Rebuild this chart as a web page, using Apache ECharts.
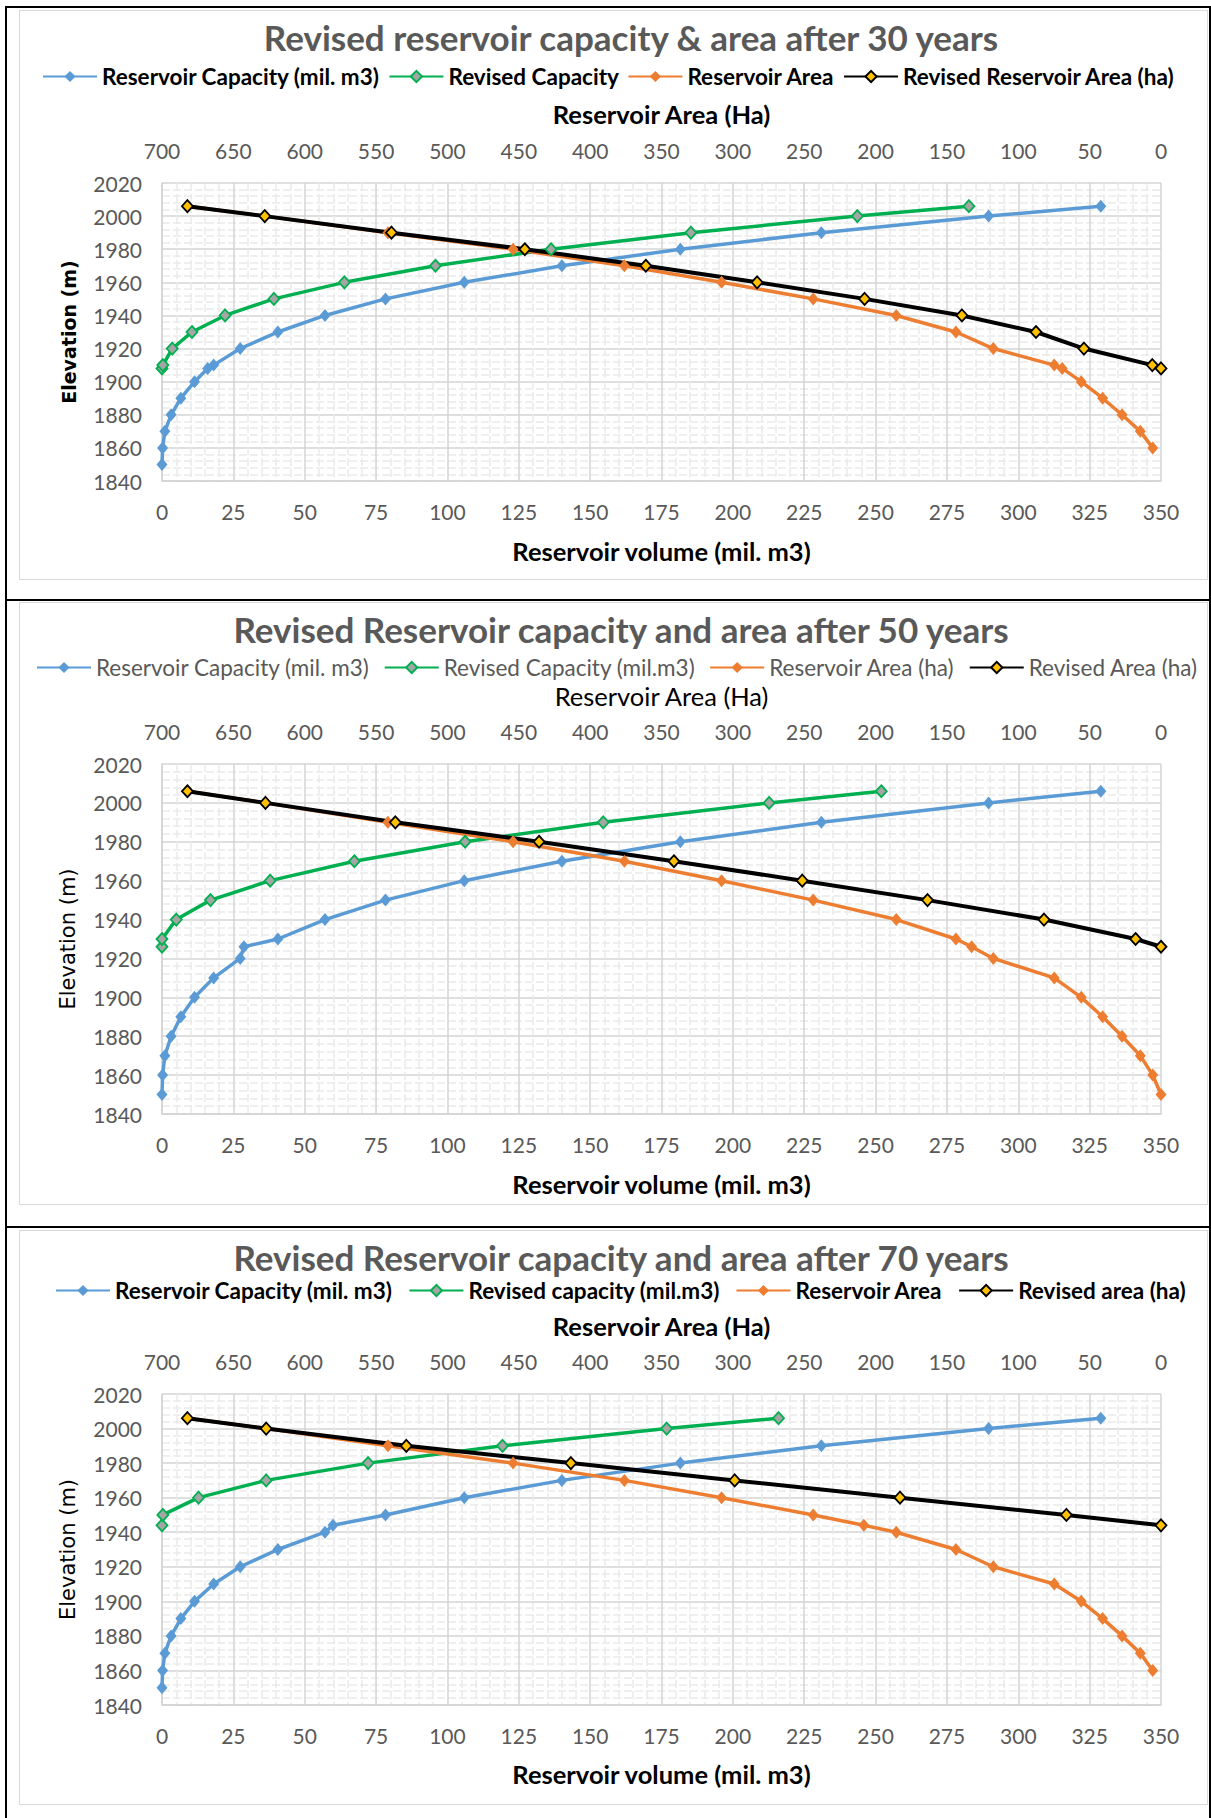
<!DOCTYPE html>
<html>
<head>
<meta charset="utf-8">
<title>Revised reservoir capacity and area</title>
<script src="https://cdn.jsdelivr.net/npm/echarts@6/dist/echarts.min.js"></script>
<style>
  html, body { margin: 0; padding: 0; background: #ffffff; }
  body { width: 1211px; height: 1818px; position: relative; overflow: hidden; }
  .rule { position: absolute; background: #000000; }
  .frame { position: absolute; left: 19px; width: 1189px; box-sizing: border-box; border: 1px solid #d9d9d9; }
  .chart { position: absolute; left: 19px; width: 1189px; }
</style>
</head>
<body>
<!-- table rules around the three panels -->
<div class="rule" style="left:5px;top:6px;width:2px;height:1812px"></div>
<div class="rule" style="left:5px;top:6px;width:1206px;height:2px"></div>
<div class="rule" style="left:5px;top:599px;width:1206px;height:2px"></div>
<div class="rule" style="left:5px;top:1226px;width:1206px;height:2px"></div>
<div class="rule" style="left:1209px;top:6px;width:2px;height:1812px"></div>

<div class="frame" style="top:10px;height:570px"></div>
<div class="frame" style="top:602px;height:603px"></div>
<div class="frame" style="top:1230px;height:575px"></div>

<div id="chart30" class="chart" style="top:10px;height:570px"></div>
<div id="chart50" class="chart" style="top:602px;height:603px"></div>
<div id="chart70" class="chart" style="top:1230px;height:575px"></div>

<script>
// ---------- axis ticks ----------
const VOLUME_TICKS = [0, 350, 25];      // min, max, step (mil. m3)
const AREA_TICKS = [0, 700, 50];        // min, max, step (ha), drawn right-to-left
const ELEVATION_TICKS = [1840, 2020, 20];

// ---------- after 30 years ----------
const capElev30 = [1850, 1860, 1870, 1880, 1890, 1900, 1908, 1910, 1920, 1930, 1940, 1950, 1960, 1970, 1980, 1990, 2000, 2006];
const cap30 = [0, 0.2, 1.0, 3.2, 6.6, 11.4, 16.0, 18.1, 27.4, 40.6, 57.1, 78.3, 105.9, 140.1, 181.6, 231.0, 289.6, 328.9];
const revCapElev30 = [1908, 1910, 1920, 1930, 1940, 1950, 1960, 1970, 1980, 1990, 2000, 2006];
const revCap30 = [0, 0.3, 3.6, 10.5, 22.1, 39.2, 63.9, 95.8, 136.3, 185.3, 243.6, 282.7];
const areaElev30 = [1860, 1870, 1880, 1890, 1900, 1908, 1910, 1920, 1930, 1940, 1950, 1960, 1970, 1980, 1990, 2000, 2006];
const area30 = [5.8, 14.5, 27.3, 40.9, 55.9, 69.2, 74.8, 117.5, 143.7, 185.5, 243.7, 307.9, 376.0, 454.0, 541.7, 627.8, 682.2];
const revAreaElev30 = [1908, 1910, 1920, 1930, 1940, 1950, 1960, 1970, 1980, 1990, 2000, 2006];
const revArea30 = [0, 6.1, 54.0, 87.6, 139.5, 207.7, 283.0, 361.0, 445.8, 539.2, 628.0, 682.2];

// ---------- after 50 years ----------
const capElev50 = [1850, 1860, 1870, 1880, 1890, 1900, 1910, 1920, 1926, 1930, 1940, 1950, 1960, 1970, 1980, 1990, 2000, 2006];
const cap50 = [0, 0.2, 1.0, 3.2, 6.6, 11.4, 18.1, 27.4, 28.7, 40.6, 57.1, 78.3, 105.9, 140.1, 181.6, 231.0, 289.6, 328.9];
const revCapElev50 = [1926, 1930, 1940, 1950, 1960, 1970, 1980, 1990, 2000, 2006];
const revCap50 = [0, 0, 5.0, 17.0, 37.9, 67.4, 106.2, 154.6, 212.7, 252.0];
const areaElev50 = [1850, 1860, 1870, 1880, 1890, 1900, 1910, 1920, 1926, 1930, 1940, 1950, 1960, 1970, 1980, 1990, 2000, 2006];
const area50 = [0, 5.8, 14.5, 27.3, 40.9, 55.9, 74.8, 117.5, 132.7, 143.7, 185.5, 243.7, 307.9, 376.0, 454.0, 541.7, 627.8, 682.2];
const revAreaElev50 = [1926, 1930, 1940, 1950, 1960, 1970, 1980, 1990, 2000, 2006];
const revArea50 = [0, 17.8, 82.0, 163.6, 251.4, 341.3, 435.8, 536.5, 627.5, 682.2];

// ---------- after 70 years ----------
const capElev70 = [1850, 1860, 1870, 1880, 1890, 1900, 1910, 1920, 1930, 1940, 1944, 1950, 1960, 1970, 1980, 1990, 2000, 2006];
const cap70 = [0, 0.2, 1.0, 3.2, 6.6, 11.4, 18.1, 27.4, 40.6, 57.1, 59.9, 78.3, 105.9, 140.1, 181.6, 231.0, 289.6, 328.9];
const revCapElev70 = [1944, 1950, 1960, 1970, 1980, 1990, 2000, 2006];
const revCap70 = [0, 0.3, 12.8, 36.5, 72.2, 119.3, 176.8, 216.0];
const areaElev70 = [1860, 1870, 1880, 1890, 1900, 1910, 1920, 1930, 1940, 1944, 1950, 1960, 1970, 1980, 1990, 2000, 2006];
const area70 = [5.8, 14.5, 27.3, 40.9, 55.9, 74.8, 117.5, 143.7, 185.5, 208.2, 243.7, 307.9, 376.0, 454.0, 541.7, 627.0, 682.2];
const revAreaElev70 = [1944, 1950, 1960, 1970, 1980, 1990, 2000, 2006];
const revArea70 = [0, 66.3, 182.9, 298.7, 413.5, 528.8, 627.0, 682.2];

// ---------- series names ----------
const names30 = ['Reservoir Capacity (mil. m3)', 'Revised Capacity', 'Reservoir Area', 'Revised Reservoir Area (ha)'];
const names50 = ['Reservoir Capacity (mil. m3)', 'Revised Capacity (mil.m3)', 'Reservoir Area (ha)', 'Revised Area (ha)'];
const names70 = ['Reservoir Capacity (mil. m3)', 'Revised capacity (mil.m3)', 'Reservoir Area', 'Revised area (ha)'];

const BODY_FONT = 'Lato, "Liberation Sans", sans-serif';
const GRAY_TEXT = '#595959';

function points(values, elevations) {
  return values.map((v, i) => [v, elevations[i]]);
}

// One line series; xIndex 0 = volume axis (bottom), 1 = area axis (top)
function curve(name, xIndex, data, kind) {
  const s = {
    name, type: 'line', xAxisIndex: xIndex, yAxisIndex: 0, data,
    symbol: 'diamond', symbolSize: [11, 13], showSymbol: true, smooth: false,
    emphasis: { disabled: true }
  };
  if (kind === 'capacity') {
    s.lineStyle = { color: '#5b9bd5', width: 3.5 };
    s.itemStyle = { color: '#5b9bd5', borderColor: '#5b9bd5', borderWidth: 0 };
  } else if (kind === 'revisedCapacity') {
    s.symbolSize = [11, 12];
    s.lineStyle = { color: '#00b050', width: 3.5 };
    s.itemStyle = { color: '#a5a5a5', borderColor: '#00b050', borderWidth: 1.8 };
  } else if (kind === 'area') {
    s.lineStyle = { color: '#ed7d31', width: 3.5 };
    s.itemStyle = { color: '#ed7d31', borderColor: '#ed7d31', borderWidth: 0 };
  } else {
    s.symbolSize = [11, 12];
    s.lineStyle = { color: '#000000', width: 4 };
    s.itemStyle = { color: '#ffc000', borderColor: '#000000', borderWidth: 1.8 };
  }
  return s;
}

function buildOption(p) {
  const labelBase = { color: GRAY_TEXT, fontFamily: BODY_FONT, fontSize: 21 };
  const majorLine = { show: true, lineStyle: { color: '#d4d4d4', width: 1.5 } };
  const minorLine = { show: true, lineStyle: { color: '#eaeaea', width: 1.5, type: [8, 3] } };
  const axisNameStyle = (bold) => ({ fontFamily: BODY_FONT, fontSize: 25.5, fontWeight: bold ? 'bold' : 'normal', color: '#000000' });
  return {
    animation: false,
    textStyle: { fontFamily: BODY_FONT },
    title: {
      text: p.title, left: p.titleX, top: 27, padding: 0,
      textAlign: 'center', textVerticalAlign: 'middle',
      textStyle: { fontFamily: BODY_FONT, fontSize: 35, fontWeight: 'bold', color: GRAY_TEXT }
    },
    legend: {
      data: p.names, left: p.legendX, top: p.legendY, padding: 0,
      itemWidth: 54, itemHeight: 14, itemGap: p.legendGap,
      selectedMode: false,
      textStyle: { fontFamily: BODY_FONT, fontSize: 22.5, fontWeight: p.legendBold ? 'bold' : 'normal', color: p.legendColor }
    },
    grid: { left: 143, top: p.gridTop, width: 999, height: p.gridHeight },
    xAxis: [
      {
        type: 'value', position: 'bottom',
        min: VOLUME_TICKS[0], max: VOLUME_TICKS[1], interval: VOLUME_TICKS[2],
        name: 'Reservoir volume (mil. m3)', nameLocation: 'middle', nameGap: p.bottomNameGap,
        nameTextStyle: axisNameStyle(true),
        axisLine: { show: true, lineStyle: { color: '#d4d4d4', width: 1.5 } },
        axisTick: { show: false },
        axisLabel: Object.assign({ margin: 20 }, labelBase),
        splitLine: majorLine,
        minorTick: { show: false, splitNumber: 5 },
        minorSplitLine: minorLine
      },
      {
        type: 'value', position: 'top', inverse: true,
        min: AREA_TICKS[0], max: AREA_TICKS[1], interval: AREA_TICKS[2],
        name: 'Reservoir Area (Ha)', nameLocation: 'middle', nameGap: p.topNameGap,
        nameTextStyle: axisNameStyle(p.topNameBold),
        axisLine: { show: false },
        axisTick: { show: false },
        axisLabel: Object.assign({ margin: 22.5 }, labelBase),
        splitLine: { show: false }
      }
    ],
    yAxis: {
      type: 'value',
      min: ELEVATION_TICKS[0], max: ELEVATION_TICKS[1], interval: ELEVATION_TICKS[2],
      name: 'Elevation (m)', nameLocation: 'middle', nameGap: 84,
      nameTextStyle: {
        fontFamily: '"DejaVu Sans", sans-serif',
        fontSize: p.yNameBold ? 19 : 21,
        fontWeight: p.yNameBold ? 'bold' : 'normal',
        color: '#000000'
      },
      axisLine: { show: true, lineStyle: { color: '#d4d4d4', width: 1.5 } },
      axisTick: { show: false },
      axisLabel: Object.assign({ margin: 20, formatter: (v) => String(v) }, labelBase),
      splitLine: majorLine,
      minorTick: { show: false, splitNumber: 5 },
      minorSplitLine: minorLine
    },
    series: [
      curve(p.names[0], 0, p.capacity, 'capacity'),
      curve(p.names[1], 0, p.revisedCapacity, 'revisedCapacity'),
      curve(p.names[2], 1, p.area, 'area'),
      curve(p.names[3], 1, p.revisedArea, 'revisedArea')
    ]
  };
}

const panels = [
  {
    el: 'chart30',
    title: 'Revised reservoir capacity & area after 30 years', titleX: 612,
    names: names30, legendX: 23, legendY: 55, legendGap: 8.5, legendBold: true, legendColor: '#000000',
    gridTop: 173, gridHeight: 298, topNameGap: 56, bottomNameGap: 57, topNameBold: true, yNameBold: true,
    capacity: points(cap30, capElev30), revisedCapacity: points(revCap30, revCapElev30),
    area: points(area30, areaElev30), revisedArea: points(revArea30, revAreaElev30)
  },
  {
    el: 'chart50',
    title: 'Revised Reservoir capacity and area after 50 years', titleX: 602,
    names: names50, legendX: 17, legendY: 54, legendGap: 14, legendBold: false, legendColor: GRAY_TEXT,
    gridTop: 162, gridHeight: 350, topNameGap: 55, bottomNameGap: 57, topNameBold: false, yNameBold: false,
    capacity: points(cap50, capElev50), revisedCapacity: points(revCap50, revCapElev50),
    area: points(area50, areaElev50), revisedArea: points(revArea50, revAreaElev50)
  },
  {
    el: 'chart70',
    title: 'Revised Reservoir capacity and area after 70 years', titleX: 602,
    names: names70, legendX: 36, legendY: 49, legendGap: 15.5, legendBold: true, legendColor: '#000000',
    gridTop: 164, gridHeight: 311, topNameGap: 55, bottomNameGap: 56, topNameBold: true, yNameBold: false,
    capacity: points(cap70, capElev70), revisedCapacity: points(revCap70, revCapElev70),
    area: points(area70, areaElev70), revisedArea: points(revArea70, revAreaElev70)
  }
];

panels.forEach(p => {
  const chart = echarts.init(document.getElementById(p.el), null, { renderer: 'svg' });
  chart.setOption(buildOption(p));
});
</script>
</body>
</html>
